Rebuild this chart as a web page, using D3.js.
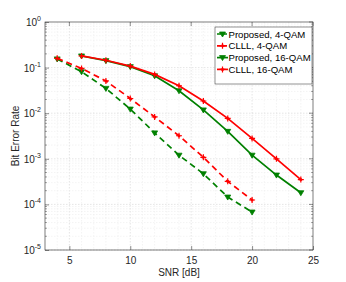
<!DOCTYPE html>
<html>
<head>
<meta charset="utf-8">
<script src="https://cdn.jsdelivr.net/npm/d3@7"></script>
<style>
body { margin: 0; background: #fff; }
text { font-family: "Liberation Sans", Arial, sans-serif; }
</style>
</head>
<body>
<div id="chart"></div>
<script>
// Chart size
const w = 346;
const h = 282;
const margin = {left: 45, top: 22, right: 33, bottom: 32};

// Data
const snr4 = [4, 6, 8, 10, 12, 14, 16, 18, 20];
const proposed4 = [0.155, 0.081, 0.035, 0.0123, 0.0037, 0.0012, 0.00047, 0.000145, 0.000068];
const clll4 = [0.16, 0.096, 0.051, 0.021, 0.0083, 0.0032, 0.00108, 0.00032, 0.000125];
const snr16 = [6, 8, 10, 12, 14, 16, 18, 20, 22, 24];
const proposed16 = [0.18, 0.142, 0.105, 0.066, 0.031, 0.0118, 0.0040, 0.0012, 0.00044, 0.00018];
const clll16 = [0.18, 0.145, 0.108, 0.071, 0.04, 0.0185, 0.0077, 0.0028, 0.001, 0.00035];

const xTicks = [5, 10, 15, 20, 25];
const yTicks = [0, -1, -2, -3, -4, -5]; // exponents
const legendNames = ["Proposed, 4-QAM", "CLLL, 4-QAM", "Proposed, 16-QAM", "CLLL, 16-QAM"];

const green = "#008000";
const red = "#ff0000";

const series = [
  {name: legendNames[0], x: snr4, y: proposed4, color: green, dash: "6,4", marker: "tri"},
  {name: legendNames[1], x: snr4, y: clll4, color: red, dash: "6,4", marker: "plus"},
  {name: legendNames[2], x: snr16, y: proposed16, color: green, dash: null, marker: "tri"},
  {name: legendNames[3], x: snr16, y: clll16, color: red, dash: null, marker: "plus"}
];

const svg = d3.select("#chart").append("svg")
  .attr("width", w)
  .attr("height", h);

const x = d3.scaleLinear().domain([3, 25]).range([margin.left, w - margin.right]);
const y = d3.scaleLog().domain([1e-5, 1]).range([h - margin.bottom, margin.top]);

const x0 = x.range()[0], x1 = x.range()[1];
const y0 = y.range()[0], y1 = y.range()[1];

// Grid lines (minor + major)
const grid = svg.append("g");
for (let v = 4; v < 25; v++) {
  grid.append("line")
    .attr("x1", x(v)).attr("x2", x(v)).attr("y1", y1).attr("y2", y0)
    .attr("stroke", xTicks.includes(v) ? "#d4d4d4" : "#ececec")
    .attr("stroke-width", 0.6)
    .attr("stroke-dasharray", "1.5,1.5");
}
for (let e = -5; e < 0; e++) {
  for (let m = 1; m < 10; m++) {
    const v = m * Math.pow(10, e);
    grid.append("line")
      .attr("x1", x0).attr("x2", x1).attr("y1", y(v)).attr("y2", y(v))
      .attr("stroke", m === 1 ? "#d4d4d4" : "#ececec")
      .attr("stroke-width", 0.6)
      .attr("stroke-dasharray", "1.5,1.5");
  }
}

// Axes
const xAxis = d3.axisBottom(x).tickValues(xTicks).tickSize(-4).tickPadding(7).tickFormat(d3.format("d"));
const gx = svg.append("g")
  .attr("transform", `translate(0,${y0})`)
  .call(xAxis);
gx.select(".domain").remove();
gx.selectAll("line").attr("stroke", "#262626").attr("stroke-width", 0.5);
gx.selectAll("text").attr("font-size", 10).attr("fill", "#262626")
  .attr("font-family", "Liberation Sans, Arial, sans-serif");

const yAxis = d3.axisLeft(y).tickValues(yTicks.map(e => Math.pow(10, e))).tickSize(-4).tickPadding(3).tickFormat("");
const gy = svg.append("g")
  .attr("transform", `translate(${x0},0)`)
  .call(yAxis);
gy.select(".domain").remove();
gy.selectAll("line").attr("stroke", "#262626").attr("stroke-width", 0.5);

// Minor y ticks
for (let e = -5; e < 0; e++) {
  for (let m = 2; m < 10; m++) {
    const v = m * Math.pow(10, e);
    svg.append("line").attr("x1", x0).attr("x2", x0 + 2).attr("y1", y(v)).attr("y2", y(v))
      .attr("stroke", "#262626").attr("stroke-width", 0.4);
    svg.append("line").attr("x1", x1).attr("x2", x1 - 2).attr("y1", y(v)).attr("y2", y(v))
      .attr("stroke", "#262626").attr("stroke-width", 0.4);
  }
}
// right and top ticks
yTicks.forEach(e => {
  svg.append("line").attr("x1", x1).attr("x2", x1 - 4).attr("y1", y(Math.pow(10, e))).attr("y2", y(Math.pow(10, e)))
    .attr("stroke", "#262626").attr("stroke-width", 0.5);
});
xTicks.forEach(v => {
  svg.append("line").attr("x1", x(v)).attr("x2", x(v)).attr("y1", y1).attr("y2", y1 + 4)
    .attr("stroke", "#262626").attr("stroke-width", 0.5);
});

// y tick labels 10^e
yTicks.forEach(e => {
  const t = svg.append("text")
    .attr("x", x0 - 4)
    .attr("y", y(Math.pow(10, e)) + 4)
    .attr("text-anchor", "end")
    .attr("font-size", 10)
    .attr("fill", "#262626");
  t.append("tspan").text("10");
  t.append("tspan").attr("dy", -5).attr("font-size", 7).text(e);
});

// box
svg.append("rect")
  .attr("x", x0).attr("y", y1)
  .attr("width", x1 - x0).attr("height", y0 - y1)
  .attr("fill", "none").attr("stroke", "#262626").attr("stroke-width", 0.6);

// Axis labels
svg.append("text")
  .attr("x", (x0 + x1) / 2)
  .attr("y", h - 6)
  .attr("text-anchor", "middle")
  .attr("font-size", 10)
  .attr("fill", "#262626")
  .text("SNR [dB]");

svg.append("text")
  .attr("transform", `translate(19,${(y0 + y1) / 2}) rotate(-90)`)
  .attr("text-anchor", "middle")
  .attr("font-size", 10)
  .attr("fill", "#262626")
  .text("Bit Error Rate");

// Markers
function drawMarker(g, type, color, cx, cy) {
  if (type === "tri") {
    g.append("path")
      .attr("d", `M${cx - 3},${cy - 2} L${cx + 3},${cy - 2} L${cx},${cy + 3} Z`)
      .attr("fill", color).attr("stroke", color).attr("stroke-width", 0.8);
  } else {
    g.append("path")
      .attr("d", `M${cx - 3},${cy} L${cx + 3},${cy} M${cx},${cy - 3} L${cx},${cy + 3}`)
      .attr("stroke", color).attr("stroke-width", 1.2);
    g.append("circle").attr("cx", cx).attr("cy", cy).attr("r", 1.5).attr("fill", color);
  }
}

// Lines
const line = d3.line().x(d => x(d[0])).y(d => y(d[1]));
series.forEach(s => {
  const pts = s.x.map((v, i) => [v, s.y[i]]);
  svg.append("path")
    .datum(pts)
    .attr("d", line)
    .attr("fill", "none")
    .attr("stroke", s.color)
    .attr("stroke-width", 1.7)
    .attr("stroke-dasharray", s.dash);
  const g = svg.append("g");
  pts.forEach(p => drawMarker(g, s.marker, s.color, x(p[0]), y(p[1])));
});

// Legend
const lg = svg.append("g");
lg.append("rect")
  .attr("x", 215).attr("y", 27)
  .attr("width", 97).attr("height", 57)
  .attr("fill", "#fff").attr("stroke", "#262626").attr("stroke-width", 0.5);
series.forEach((s, i) => {
  const cy = 34 + i * 11.8;
  lg.append("line")
    .attr("x1", 217).attr("x2", 228)
    .attr("y1", cy).attr("y2", cy)
    .attr("stroke", s.color).attr("stroke-width", 1.7)
    .attr("stroke-dasharray", s.dash ? "4,2" : null);
  drawMarker(lg, s.marker, s.color, 222.5, cy);
  lg.append("text")
    .attr("x", 228.5).attr("y", cy + 3.5)
    .attr("font-size", 9.6)
    .attr("fill", "#000")
    .text(s.name);
});
</script>
</body>
</html>
